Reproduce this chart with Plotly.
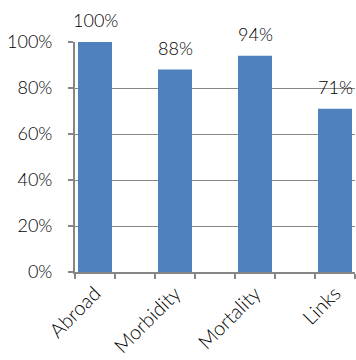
import plotly.graph_objects as go

# Share of records per data domain
categories = ["Abroad", "Morbidity", "Mortality", "Links"]
values = [1.00, 0.88, 0.94, 0.71]
y_ticks = [0, 0.2, 0.4, 0.6, 0.8, 1.0]

BAR_COLOR = "#4F81BD"
AXIS_COLOR = "#868686"
TEXT_COLOR = "#000000"
FONT = "Lato, 'Open Sans', sans-serif"

# interleave blank spacer slots between the categories
axis_order = []
for i, c in enumerate(categories):
    axis_order.append(c)
    if i < len(categories) - 1:
        axis_order.append(" " * (i + 1))

fig = go.Figure(
    go.Bar(
        x=categories,
        y=values,
        marker=dict(color=BAR_COLOR, line=dict(width=0)),
        width=0.85,
        hoverinfo="skip",
    )
)

for c, v in zip(categories, values):
    fig.add_annotation(
        x=c, y=v, text=f"{v:.0%}", showarrow=False,
        yanchor="middle", yshift=22,
        font=dict(family=FONT, size=18, color=TEXT_COLOR, weight=300),
    )

fig.update_layout(
    width=356, height=360,
    margin=dict(l=75, r=1, t=42, b=88),
    plot_bgcolor="white", paper_bgcolor="white",
    showlegend=False,
    font=dict(family=FONT, size=18, color=TEXT_COLOR, weight=300),
    xaxis=dict(
        type="category",
        categoryorder="array",
        categoryarray=axis_order,
        range=[-0.5, len(axis_order) - 0.5],
        tickson="boundaries",
        ticks="outside", ticklen=5, tickwidth=1.5, tickcolor=AXIS_COLOR,
        showline=True, linecolor=AXIS_COLOR, linewidth=2,
        showgrid=False,
        tickangle=-45,
        tickfont=dict(family=FONT, size=20, color=TEXT_COLOR, weight=300),
        fixedrange=True,
    ),
    yaxis=dict(
        range=[0, 1.0],
        tickvals=y_ticks,
        tickformat=".0%",
        ticks="outside", ticklen=5, tickwidth=1.5, tickcolor=AXIS_COLOR,
        showline=True, linecolor=AXIS_COLOR, linewidth=2,
        showgrid=True, gridcolor=AXIS_COLOR, gridwidth=1.2,
        zeroline=False,
        ticklabelstandoff=12,
        tickfont=dict(family=FONT, size=18, color=TEXT_COLOR, weight=300),
        fixedrange=True,
    ),
)

fig.write_html("out.html")
